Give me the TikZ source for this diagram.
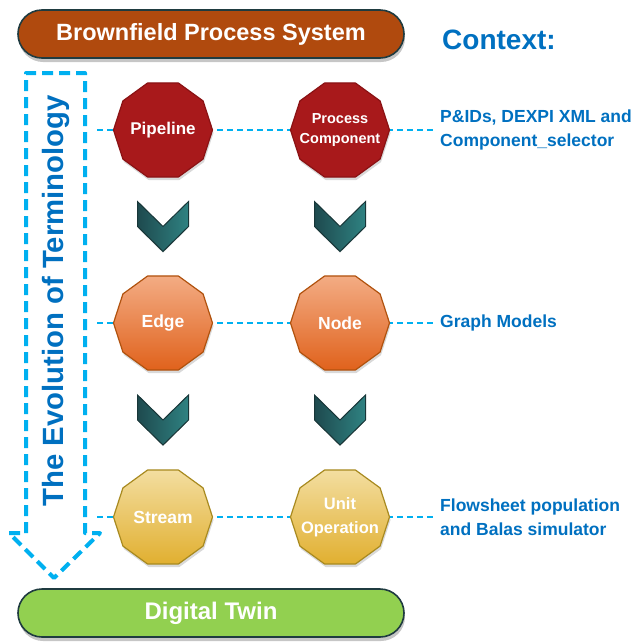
\documentclass[tikz,border=0pt]{standalone}
\usepackage{fontspec}
\setmainfont{Liberation Sans}
\usetikzlibrary{shapes.geometric,shadows,calc,backgrounds}

\definecolor{barbrown}{HTML}{B04A0E}
\definecolor{bargreen}{HTML}{92D050}
\definecolor{barline}{HTML}{1F3B40}
\definecolor{redfill}{HTML}{A8191B}
\definecolor{redline}{HTML}{8A1214}
\definecolor{orgtop}{HTML}{F3AC84}
\definecolor{orgbot}{HTML}{E0621C}
\definecolor{orgline}{HTML}{B0520E}
\definecolor{yeltop}{HTML}{F3DEA0}
\definecolor{yelbot}{HTML}{E1AF30}
\definecolor{yelline}{HTML}{A88A20}
\definecolor{tealdark}{HTML}{1E4A4E}
\definecolor{teallight}{HTML}{2F8282}
\definecolor{tealline}{HTML}{183638}
\definecolor{dashblue}{HTML}{00B0F0}
\definecolor{textblue}{HTML}{0070C0}

\tikzset{
  bar/.style={rectangle, rounded corners=24pt, minimum width=386pt,
    minimum height=48pt, draw=barline, line width=1.6pt, text=white,
    font=\bfseries, drop shadow={opacity=0.45, shadow xshift=1pt, shadow yshift=-4pt}},
  deca/.style={regular polygon, regular polygon sides=10, minimum size=99pt,
    inner sep=0pt, line width=1.2pt,
    drop shadow={opacity=0.3, shadow xshift=1pt, shadow yshift=-3pt}},
  decatext/.style={text=white, align=center, inner sep=0pt},
  redstage/.style={deca, fill=redfill, draw=redline},
  orgstage/.style={deca, top color=orgtop, bottom color=orgbot, draw=orgline},
  yelstage/.style={deca, top color=yeltop, bottom color=yelbot, draw=yelline},
  ctxlabel/.style={anchor=west, text=textblue, font=\bfseries\fontsize{17.5}{24}\selectfont,
    align=left, inner sep=0pt},
  guide/.style={dashblue, line width=2pt, dash pattern=on 6pt off 4pt, shorten >=4pt},
  flowarrow/.style={dashblue, line width=4pt, dash pattern=on 11pt off 6pt,
    line join=round},
  chev/.pic={
    \fill[black, opacity=0.25] (-25,-24) -- (0,1) -- (25,-24) -- (25,1) -- (0,26) -- (-25,1) -- cycle;
    \shade[left color=tealdark, right color=teallight, draw=tealline, line width=1pt]
      (-25.5,-25) -- (0,0) -- (25.5,-25) -- (25.5,0) -- (0,25) -- (-25.5,0) -- cycle;
  }
}

\begin{document}
\begin{tikzpicture}[x=1pt, y=-1pt]
\useasboundingbox (0,0) rectangle (637,643);

% top and bottom bars
\node[bar, fill=barbrown, font=\bfseries\fontsize{23.5}{26}\selectfont] (brown) at (211,34) {Brownfield Process System};
\node[bar, fill=bargreen, font=\bfseries\fontsize{24}{28}\selectfont] (twin) at (211,613) {Digital Twin};

% context heading and labels
\node[anchor=west, text=textblue, font=\bfseries\fontsize{28}{32}\selectfont, inner sep=0pt] (ctx) at (442,40) {Context:};
\node[ctxlabel] (ctxa) at (440,130) {P\&IDs, DEXPI XML and\\Component\_selector};
\node[ctxlabel] (ctxb) at (440,323) {Graph Models};
\node[ctxlabel] (ctxc) at (440,517) {Flowsheet population\\and Balas simulator};

% terminology stages (fixed-size decagons, text set as centred labels)
\node[redstage, label={[decatext, font=\bfseries\fontsize{17}{20}\selectfont]center:Pipeline}] (pipe) at (163,130) {};
\node[redstage, label={[decatext, font=\bfseries\fontsize{14.5}{20}\selectfont]center:{Process\\Component}}] (pcomp) at (340,130) {};
\node[orgstage, label={[decatext, font=\bfseries\fontsize{17.5}{20}\selectfont]center:Edge}] (edge) at (163,323) {};
\node[orgstage, label={[decatext, font=\bfseries\fontsize{17.5}{20}\selectfont]center:Node}] (node) at (340,323) {};
\node[yelstage, label={[decatext, font=\bfseries\fontsize{17.5}{20}\selectfont]center:Stream}] (strm) at (163,517) {};
\node[yelstage, label={[decatext, font=\bfseries\fontsize{16.5}{24}\selectfont]center:{Unit\\Operation}}] (unit) at (340,517) {};

% chevrons between the stages
\pic at ($(pipe)!0.5!(edge)$) {chev};
\pic at ($(pcomp)!0.5!(node)$) {chev};
\pic at ($(edge)!0.5!(strm)$) {chev};
\pic at ($(node)!0.5!(unit)$) {chev};

% dashed guide lines behind the stages
\coordinate (ga) at (97,130);
\coordinate (gb) at (97,323);
\coordinate (gc) at (97,517);
\begin{scope}[on background layer]
  \draw[guide] (ga) -- (ctxa.west);
  \draw[guide] (gb) -- (ctxb.west);
  \draw[guide] (gc) -- (ctxc.west);
\end{scope}

% big dashed arrow with its caption
\draw[flowarrow] (26,533) -- (26,73) -- (85,73) -- (85,533) -- (100,533)
  -- (54,578) -- (9,533) -- cycle;
\node[rotate=90, text=textblue, font=\bfseries\fontsize{29.3}{32}\selectfont, inner sep=0pt] (evo) at (56,301) {The Evolution of Terminology};
\end{tikzpicture}
\end{document}
